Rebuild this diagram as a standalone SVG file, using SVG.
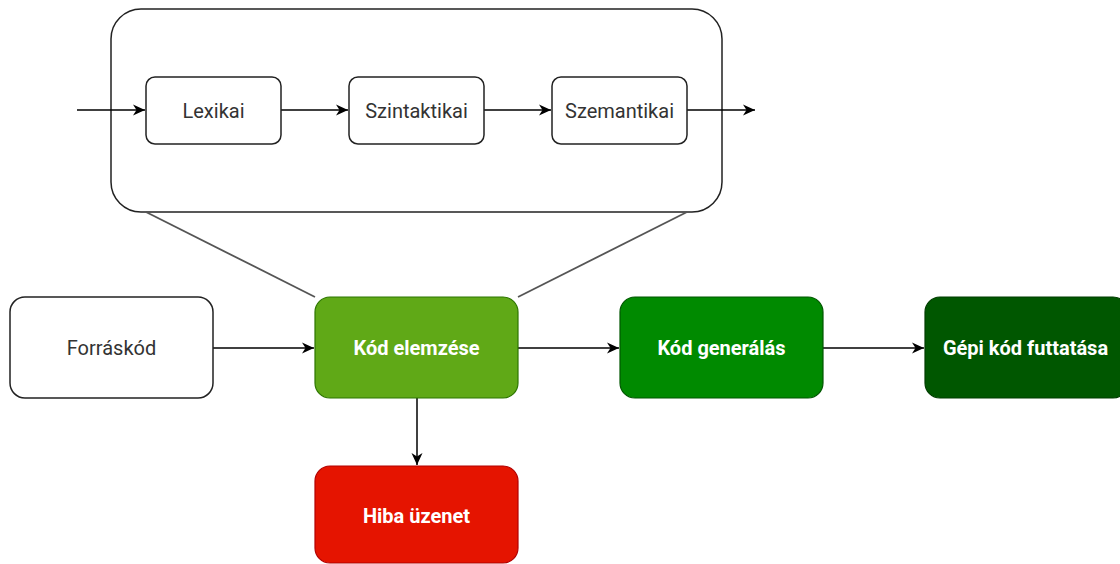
<svg xmlns="http://www.w3.org/2000/svg" width="1120" height="564" viewBox="0 0 1120 564">
<style>
.box{fill:#fff;stroke:#222;stroke-width:1.5}
.t{font-family:Roboto,"Liberation Sans",sans-serif;font-size:20px;fill:#333;text-anchor:middle;dominant-baseline:central}
.w{font-family:Roboto,"Liberation Sans",sans-serif;font-size:20px;font-weight:bold;fill:#fff;text-anchor:middle;dominant-baseline:central}
.c{fill:none;stroke:#000;stroke-width:1.5}
.g{fill:none;stroke:#555;stroke-width:1.8}
</style>
<defs>
<marker id="a" markerWidth="13" markerHeight="12" refX="12" refY="6" orient="auto" markerUnits="userSpaceOnUse">
<path d="M0,0.5 L12,6 L0,11.5 L3.5,6 Z" fill="#000"/>
</marker>
</defs>
<g id="container"><rect class="box" x="111" y="9" width="611" height="203" rx="30"/></g>
<g id="connectors">
<line class="g" x1="146" y1="212" x2="315" y2="297"/>
<line class="g" x1="687" y1="212" x2="518" y2="297"/>
<line class="c" x1="77" y1="110" x2="145" y2="110" marker-end="url(#a)"/>
<line class="c" x1="281" y1="110" x2="348" y2="110" marker-end="url(#a)"/>
<line class="c" x1="484" y1="110" x2="551" y2="110" marker-end="url(#a)"/>
<line class="c" x1="687" y1="110" x2="755" y2="110" marker-end="url(#a)"/>
<line class="c" x1="213" y1="348" x2="314" y2="348" marker-end="url(#a)"/>
<line class="c" x1="518" y1="348" x2="619" y2="348" marker-end="url(#a)"/>
<line class="c" x1="823" y1="348" x2="924" y2="348" marker-end="url(#a)"/>
<line class="c" x1="417" y1="398" x2="417" y2="465" marker-end="url(#a)"/>
</g>
<g id="lexikai"><rect class="box" x="146" y="77" width="135" height="67" rx="9"/><text class="t" x="213.5" y="110.5">Lexikai</text></g>
<g id="szintaktikai"><rect class="box" x="349" y="77" width="135" height="67" rx="9"/><text class="t" x="416.5" y="110.5">Szintaktikai</text></g>
<g id="szemantikai"><rect class="box" x="552" y="77" width="135" height="67" rx="9"/><text class="t" x="619.5" y="110.5">Szemantikai</text></g>
<g id="forraskod"><rect class="box" x="10" y="297" width="203" height="101" rx="15"/><text class="t" x="111.5" y="348">Forráskód</text></g>
<g id="kod-elemzese"><rect x="315" y="297" width="203" height="101" rx="15" fill="#60a917" stroke="#2d7600" stroke-width="1.2"/><text class="w" x="416.5" y="348">Kód elemzése</text></g>
<g id="kod-generalas"><rect x="620" y="297" width="203" height="101" rx="15" fill="#008a00" stroke="#005700" stroke-width="1.2"/><text class="w" x="721.5" y="348">Kód generálás</text></g>
<g id="gepi-kod"><rect x="925" y="297" width="203" height="101" rx="15" fill="#005700" stroke="#003d00" stroke-width="1.2"/><text class="w" x="1025.5" y="348">Gépi kód futtatása</text></g>
<g id="hiba"><rect x="315" y="466" width="203" height="97" rx="15" fill="#e51400" stroke="#b20000" stroke-width="1.2"/><text class="w" x="416.5" y="516">Hiba üzenet</text></g>
</svg>
